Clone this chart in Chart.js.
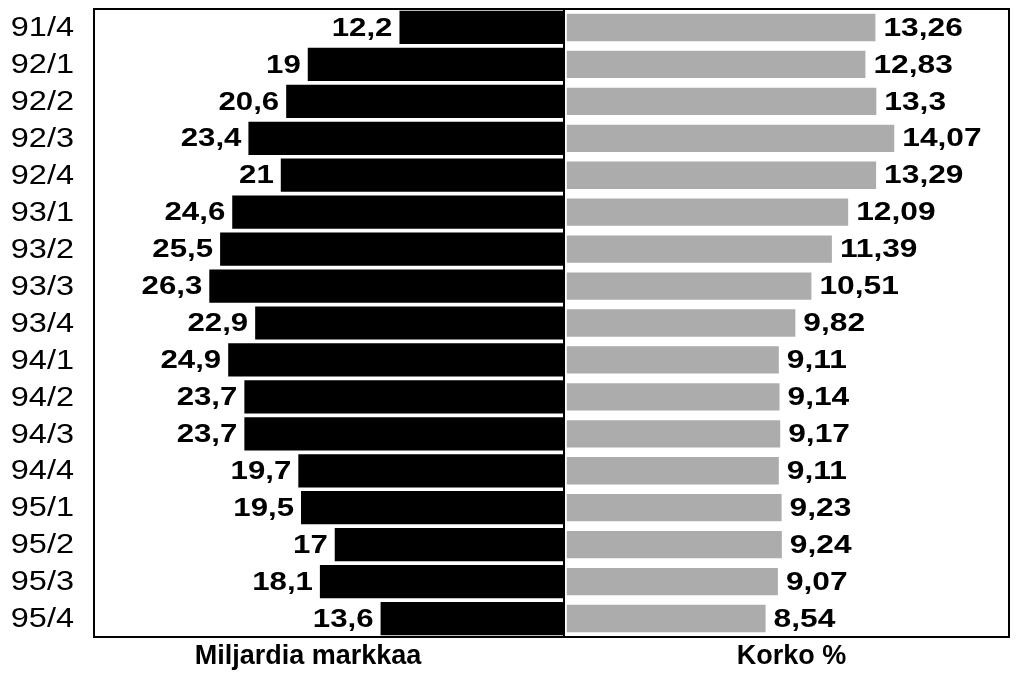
<!DOCTYPE html>
<html>
<head>
<meta charset="utf-8">
<script src="https://cdn.jsdelivr.net/npm/chart.js@4.4.1/dist/chart.umd.min.js"></script>
<style>
  body { margin: 0; background: #fff; }
  #wrap { position: relative; width: 1024px; height: 675px; }
  canvas { position: absolute; top: 0; }
  #leftCanvas { left: 0; }
  #rightCanvas { left: 563px; }
</style>
</head>
<body>
<div id="wrap">
  <canvas id="leftCanvas" width="565" height="675"></canvas>
  <canvas id="rightCanvas" width="461" height="675"></canvas>
</div>
<script>
var quarters = ['91/4', '92/1', '92/2', '92/3', '92/4', '93/1', '93/2', '93/3', '93/4',
                '94/1', '94/2', '94/3', '94/4', '95/1', '95/2', '95/3', '95/4'];
var billions = [12.2, 19, 20.6, 23.4, 21, 24.6, 25.5, 26.3, 22.9,
                24.9, 23.7, 23.7, 19.7, 19.5, 17, 18.1, 13.6];
var rates = [13.26, 12.83, 13.3, 14.07, 13.29, 12.09, 11.39, 10.51, 9.82,
             9.11, 9.14, 9.17, 9.11, 9.23, 9.24, 9.07, 8.54];

function fmt(v) {
  return String(v).replace('.', ',');
}

// the scanned original uses wide letters, so text is drawn stretched
function wideText(ctx, text, x, y, align, sx) {
  ctx.save();
  ctx.translate(x, y);
  ctx.scale(sx, 1);
  ctx.textAlign = align;
  ctx.fillText(text, 0, 0);
  ctx.restore();
}

// draws value labels, category labels, frame and bottom title
const barText = {
  id: 'barText',
  afterDatasetsDraw(chart, args, opts) {
    const ctx = chart.ctx;
    const area = chart.chartArea;
    const meta = chart.getDatasetMeta(0);
    const vals = chart.data.datasets[0].data;
    ctx.save();
    ctx.fillStyle = '#000';
    ctx.textBaseline = 'middle';
    ctx.font = 'bold 26px "Liberation Sans", Arial, sans-serif';
    meta.data.forEach(function (bar, i) {
      if (opts.side === 'left') {
        wideText(ctx, fmt(vals[i]), bar.x - 7, bar.y + 1, 'right', 1.2);
      } else {
        wideText(ctx, fmt(vals[i]), bar.x + 8, bar.y + 1, 'left', 1.22);
      }
    });

    if (opts.side === 'left') {
      const yScale = chart.scales.y;
      ctx.font = '28px "Liberation Sans", Arial, sans-serif';
      chart.data.labels.forEach(function (lab, i) {
        wideText(ctx, lab, area.left - 20, yScale.getPixelForTick(i) + 1, 'right', 1.16);
      });
    }

    // frame
    ctx.strokeStyle = '#000';
    ctx.lineWidth = 2;
    ctx.strokeRect(area.left, area.top, area.right - area.left, area.bottom - area.top);

    // axis title under the box
    ctx.font = 'bold 27px "Liberation Sans", Arial, sans-serif';
    wideText(ctx, opts.title, (area.left + area.right) / 2 + opts.shift, area.bottom + 20, 'center', 1);
    ctx.restore();
  }
};

const config_left = {
  type: 'bar',
  data: {
    labels: quarters,
    datasets: [
      {
        label: 'Miljardia markkaa',
        backgroundColor: '#000',
        borderWidth: 0,
        barPercentage: 0.9,
        categoryPercentage: 1,
        data: billions
      }
    ]
  },
  options: {
    indexAxis: 'y',
    responsive: false,
    animation: false,
    layout: { padding: { top: 9, bottom: 38, left: 94, right: 1 } },
    plugins: {
      legend: { display: false },
      tooltip: { enabled: false },
      barText: { side: 'left', title: 'Miljardia markkaa', shift: -21 }
    },
    scales: {
      x: {
        display: false,
        reverse: true,
        min: 0,
        max: 34.85
      },
      y: {
        display: false
      }
    }
  },
  plugins: [barText]
};

const config_right = {
  type: 'bar',
  data: {
    labels: quarters,
    datasets: [
      {
        label: 'Korko %',
        backgroundColor: '#acacac',
        borderWidth: 0,
        barPercentage: 0.74,
        categoryPercentage: 1,
        data: rates
      }
    ]
  },
  options: {
    indexAxis: 'y',
    responsive: false,
    animation: false,
    layout: { padding: { top: 9, bottom: 38, left: 1, right: 15 } },
    plugins: {
      legend: { display: false },
      tooltip: { enabled: false },
      barText: { side: 'right', title: 'Korko %', shift: 5 }
    },
    scales: {
      x: {
        display: false,
        min: -0.12,
        max: 19
      },
      y: {
        display: false
      }
    }
  },
  plugins: [barText]
};

const ChartLeft = new Chart(document.getElementById('leftCanvas'), config_left);
const ChartRight = new Chart(document.getElementById('rightCanvas'), config_right);
</script>
</body>
</html>
